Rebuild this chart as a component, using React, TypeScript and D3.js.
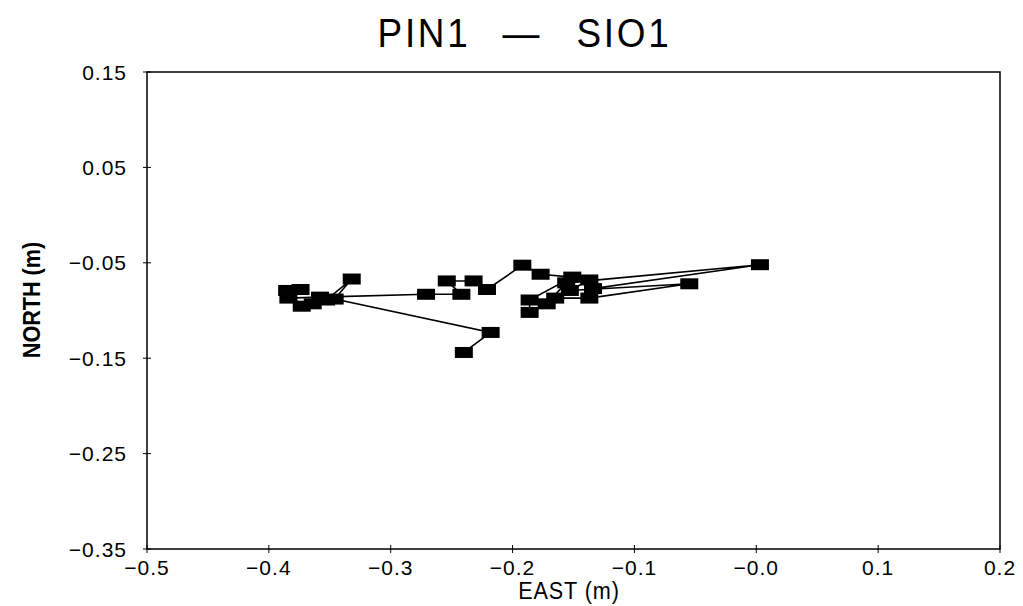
import React from "react";
import * as d3 from "d3";

const titleParts = ["PIN1", "\u2014", "SIO1"];
const xLabel = "EAST (m)";
const yLabel = "NORTH (m)";
const xTicks = [-0.5, -0.4, -0.3, -0.2, -0.1, 0.0, 0.1, 0.2];
const xTickLabels = ["\u22120.5", "\u22120.4", "\u22120.3", "\u22120.2", "\u22120.1", "\u22120.0", "0.1", "0.2"];
const yTicks = [0.15, 0.05, -0.05, -0.15, -0.25, -0.35];
const yTickLabels = ["0.15", "0.05", "\u22120.05", "\u22120.15", "\u22120.25", "\u22120.35"];

// East (m), in time order
const east = [
  -0.240, -0.218, -0.346, -0.332, -0.353, -0.364, -0.373, -0.385, -0.374, -0.384,
  -0.358, -0.271, -0.242, -0.254, -0.232, -0.221, -0.192, -0.177, -0.151, -0.186,
  -0.186, -0.165, -0.137, -0.055, -0.153, -0.137, -0.134, 0.003, -0.156, -0.172,
];
// North (m), in time order
const north = [
  -0.144, -0.123, -0.088, -0.067, -0.089, -0.093, -0.0955, -0.079, -0.078, -0.087,
  -0.086, -0.083, -0.083, -0.069, -0.069, -0.078, -0.0525, -0.062, -0.065, -0.089,
  -0.102, -0.087, -0.087, -0.072, -0.079, -0.068, -0.077, -0.052, -0.071, -0.093,
];

const W = 1023;
const H = 606;
const L = 147, R = 1000, T = 72, B = 549;

export default function App() {
  const x = d3.scaleLinear().domain([-0.5, 0.2]).range([L, R]);
  const y = d3.scaleLinear().domain([-0.35, 0.15]).range([B, T]);
  const pts = east.map((e, i) => [e, north[i]] as [number, number]);
  const line = d3.line<[number, number]>().x((d) => x(d[0])).y((d) => y(d[1]));
  const mw = 18, mh = 11;
  const font = "'Liberation Sans', Arial, sans-serif";
  const titleX = [424, 521, 624];
  return (
    <svg width={W} height={H} style={{ position: "absolute", left: 0, top: 0, background: "#fff" }}>
      {titleParts.map((p, i) => (
        <text key={i} transform={`translate(${titleX[i]},47) scale(0.9,1)`} textAnchor="middle" fontFamily={font} fontSize={41} fill="#000" letterSpacing={i === 1 ? 0 : 3}>
          {p}
        </text>
      ))}
      <rect x={L} y={T} width={R - L} height={B - T} fill="none" stroke="#000" strokeWidth={1.5} />
      {yTicks.map((t, i) => (
        <g key={"y" + i}>
          <line x1={L - 4} x2={L + 4} y1={y(t)} y2={y(t)} stroke="#000" strokeWidth={1} />
          <text x={127} y={y(t)} dy="0.36em" textAnchor="end" fontFamily={font} fontSize={21} fill="#000" letterSpacing={1}>
            {yTickLabels[i]}
          </text>
        </g>
      ))}
      {xTicks.map((t, i) => (
        <g key={"x" + i}>
          <line x1={x(t)} x2={x(t)} y1={B - 4} y2={B + 4} stroke="#000" strokeWidth={1} />
          <text x={x(t)} y={575} textAnchor="middle" fontFamily={font} fontSize={21} fill="#000" letterSpacing={1}>
            {xTickLabels[i]}
          </text>
        </g>
      ))}
      <text transform="translate(569,599) scale(0.9,1)" textAnchor="middle" fontFamily={font} fontSize={24} fill="#000" letterSpacing={1}>
        {xLabel}
      </text>
      <text transform="translate(40,300) rotate(-90) scale(0.9,1)" textAnchor="middle" fontFamily={font} fontSize={24} fontWeight="bold" fill="#000">
        {yLabel}
      </text>
      <path d={line(pts) || ""} fill="none" stroke="#000" strokeWidth={1.6} />
      {pts.map((d, i) => (
        <rect key={i} x={x(d[0]) - mw / 2} y={y(d[1]) - mh / 2} width={mw} height={mh} fill="#000" />
      ))}
    </svg>
  );
}
